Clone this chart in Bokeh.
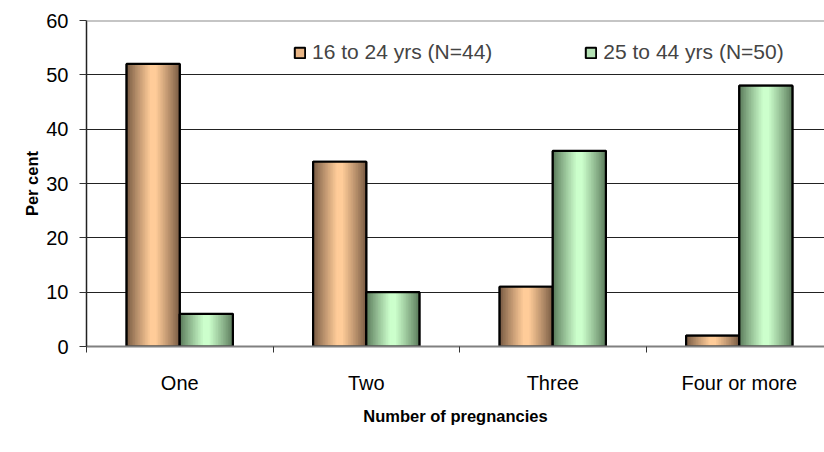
from bokeh.plotting import figure
from bokeh.models import Range1d, FixedTicker, Legend, LegendItem, Span
from bokeh.embed import file_html
from bokeh.resources import INLINE

categories = ["One", "Two", "Three", "Four or more"]
young = [52, 34, 11, 2]
older = [6, 10, 36, 48]
series_names = ["16 to 24 yrs (N=44)", "25 to 44 yrs (N=50)"]
y_ticks = [0, 10, 20, 30, 40, 50, 60]

FONT = "Liberation Sans"
n_cat = len(categories)
centers = [i + 0.5 for i in range(n_cat)]

p = figure(width=824, height=452, output_backend="svg", toolbar_location=None,
           x_range=Range1d(0, 3.957), y_range=Range1d(0, 60),
           min_border_left=86, min_border_right=0, min_border_top=20, min_border_bottom=106)
p.outline_line_color = None
p.background_fill_color = "white"
p.border_fill_color = "white"

bar_w = 0.285


def mix(c1, c2, t):
    return "#%02x%02x%02x" % tuple(int(round(a + (b - a) * t)) for a, b in zip(c1, c2))


def gradient_bars(values, offset, dark, light, mid_color):
    xs = [c + offset for c in centers]
    base = p.vbar(x=xs, top=values, width=bar_w, bottom=0, fill_color=mid_color,
                  line_color="black", line_width=2)
    n = 18
    sw = bar_w / n
    for k in range(n):
        pos = (k + 0.5) / n
        t = 1 - abs(pos - 0.5) * 2  # 0 at edges, 1 at centre
        t = min(1.0, t * 1.15) ** 0.9
        col = mix(dark, light, t)
        # draw from the outside in, each strip extending to the centre, so no seams
        pass
    # nested bands: widest (darkest) first, narrower (lighter) on top
    m = 16
    bx, bt, bw, bc = [], [], [], []
    for j in range(m):
        frac = 1 - j / m           # width fraction of band
        t = min(1.0, (j / m) * 1.15) ** 0.9
        col = mix(dark, light, t)
        for x, v in zip(xs, values):
            bx.append(x)
            bt.append(v)
            bw.append(bar_w * frac)
            bc.append(col)
    p.vbar(x=bx, top=bt, width=bw, bottom=0, fill_color=bc, line_color=None)
    p.vbar(x=xs, top=values, width=bar_w, bottom=0, fill_color=None,
           line_color="black", line_width=2.2)
    return base


r1 = gradient_bars(young, -bar_w / 2, (0x7a, 0x5c, 0x44), (0xff, 0xcc, 0x99), "#e8b585")
r2 = gradient_bars(older, bar_w / 2, (0x5c, 0x7c, 0x5c), (0xcc, 0xff, 0xcc), "#b5e2b5")

# top border line at max of y range
p.add_layout(Span(location=y_ticks[-1], dimension="width", line_color="#8c8c8c", line_width=2))

# axes
p.xaxis.ticker = FixedTicker(ticks=centers, minor_ticks=list(range(n_cat + 1)))
p.xaxis.major_label_overrides = {c: lab for c, lab in zip(centers, categories)}
p.xaxis.major_tick_line_color = None
p.xaxis.major_tick_out = 0
p.xaxis.minor_tick_out = 6
p.xaxis.minor_tick_in = 0
p.xaxis.minor_tick_line_color = "#333333"
p.xaxis.axis_line_color = "#808080"
p.xaxis.axis_line_width = 2
p.xaxis.major_label_standoff = 19
p.xaxis.axis_label = "Number of pregnancies"
p.xaxis.axis_label_standoff = 10

p.yaxis.ticker = FixedTicker(ticks=y_ticks)
p.yaxis.minor_tick_line_color = None
p.yaxis.major_tick_out = 7
p.yaxis.major_tick_in = 0
p.yaxis.major_tick_line_color = "#333333"
p.yaxis.axis_line_color = "#222222"
p.yaxis.axis_line_width = 1.5
p.yaxis.major_label_standoff = 11
p.yaxis.axis_label = "Per cent"
p.yaxis.axis_label_standoff = 2

for ax in (p.xaxis[0], p.yaxis[0]):
    ax.major_label_text_font = FONT
    ax.major_label_text_font_size = "20px"
    ax.major_label_text_color = "black"
    ax.axis_label_text_font = FONT
    ax.axis_label_text_font_size = "16.5px"
    ax.axis_label_text_font_style = "bold"
    ax.axis_label_text_color = "black"

p.xgrid.grid_line_color = None
p.ygrid.ticker = FixedTicker(ticks=y_ticks)
p.ygrid.grid_line_color = "#222222"
p.ygrid.grid_line_width = 1

legend = Legend(items=[LegendItem(label=series_names[0], renderers=[r1]),
                       LegendItem(label=series_names[1], renderers=[r2])],
                orientation="horizontal", location=(207, 282),
                spacing=92, padding=0, margin=0,
                glyph_width=13, glyph_height=13, label_standoff=6,
                label_text_font=FONT, label_text_font_size="21px",
                background_fill_alpha=0, border_line_color=None)
p.add_layout(legend, "center")

open("out.html", "w").write(file_html(p, INLINE))
